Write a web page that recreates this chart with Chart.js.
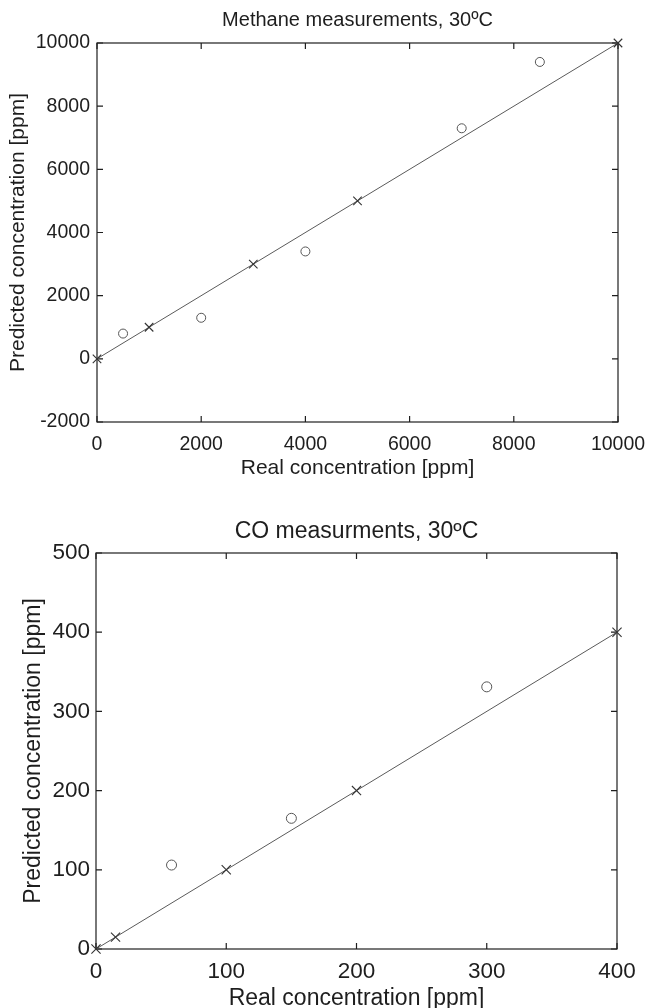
<!DOCTYPE html>
<html><head><meta charset="utf-8">
<script src="https://cdn.jsdelivr.net/npm/chart.js@4/dist/chart.umd.min.js"></script>
<style>
html,body{margin:0;padding:0;background:#fff;}
#wrap{position:relative;width:647px;height:1008px;overflow:hidden;background:#fff;}
.box{position:absolute;left:0;width:647px;}
</style></head><body>
<div id="wrap">
  <div class="box" style="top:0;height:490px"><canvas id="c1"></canvas></div>
  <div class="box" style="top:490px;height:518px"><canvas id="c2"></canvas></div>
</div>
<script>
// ---- data ----
const methaneRealCal = [0, 1000, 3000, 5000, 10000];
const methanePredCal = [0, 1000, 3000, 5000, 10000];
const methaneRealMeas = [500, 2000, 4000, 7000, 8500];
const methanePredMeas = [800, 1300, 3400, 7300, 9400];
const methaneXTicks = [0, 2000, 4000, 6000, 8000, 10000];
const methaneYTicks = [-2000, 0, 2000, 4000, 6000, 8000, 10000];

const coRealCal = [0, 15, 100, 200, 400];
const coPredCal = [0, 15, 100, 200, 400];
const coRealMeas = [58, 150, 300];
const coPredMeas = [106, 165, 331];
const coXTicks = [0, 100, 200, 300, 400];
const coYTicks = [0, 100, 200, 300, 400, 500];

const FONT = '"Liberation Sans", Arial, Helvetica, sans-serif';
const INK = '#1e1e1e';

const frame = {
  id: 'frame',
  beforeDatasetsDraw(chart) {
    const {ctx, chartArea: a, scales: {x, y}} = chart;
    const L = 6;
    ctx.save();
    ctx.strokeStyle = INK; ctx.lineWidth = 1.2;
    ctx.strokeRect(a.left, a.top, a.right - a.left, a.bottom - a.top);
    ctx.beginPath();
    x.ticks.forEach(t => {
      const p = x.getPixelForValue(t.value);
      ctx.moveTo(p, a.bottom); ctx.lineTo(p, a.bottom - L);
      ctx.moveTo(p, a.top); ctx.lineTo(p, a.top + L);
    });
    y.ticks.forEach(t => {
      const p = y.getPixelForValue(t.value);
      ctx.moveTo(a.left, p); ctx.lineTo(a.left + L, p);
      ctx.moveTo(a.right, p); ctx.lineTo(a.right - L, p);
    });
    ctx.stroke();
    ctx.restore();
  }
};

function make(id, o) {
  const pts = (xs, ys) => xs.map((v, i) => ({x: v, y: ys[i]}));
  return new Chart(document.getElementById(id), {
    type: 'scatter',
    data: {
      datasets: [
        {
          data: pts(o.calX, o.calY), showLine: true,
          borderColor: '#5a5a5a', borderWidth: 1,
          pointStyle: 'crossRot', pointRadius: o.crossR,
          pointBorderColor: '#333', pointBorderWidth: 1.1,
          pointBackgroundColor: '#333', clip: false
        },
        {
          data: pts(o.measX, o.measY), showLine: false,
          pointStyle: 'circle', pointRadius: o.circR,
          pointBorderColor: '#555', pointBorderWidth: 1,
          pointBackgroundColor: 'rgba(255,255,255,0)', clip: false
        }
      ]
    },
    options: {
      responsive: true, maintainAspectRatio: false, animation: false,
      devicePixelRatio: 1,
      layout: {padding: {left: 0, right: o.padRight, top: 0, bottom: 0}},
      plugins: {
        legend: {display: false}, tooltip: {enabled: false},
        title: {
          display: true, text: o.title, color: INK, fullSize: false,
          font: {family: FONT, size: o.titleSize, weight: 'normal', lineHeight: 1.2},
          padding: o.titlePad
        }
      },
      scales: {
        x: {
          type: 'linear', min: o.xTicks[0], max: o.xTicks[o.xTicks.length - 1],
          afterBuildTicks: s => { s.ticks = o.xTicks.map(v => ({value: v})); },
          afterFit: s => { s.height = o.xH; s.paddingLeft = 0; s.paddingRight = 0; },
          grid: {display: false, drawTicks: false}, border: {display: false},
          ticks: {color: INK, font: {family: FONT, size: o.tickSize}, padding: o.xTickPad,
                  maxRotation: 0, autoSkip: false, callback: v => String(v)},
          title: {display: true, text: 'Real concentration [ppm]', color: INK,
                  font: {family: FONT, size: o.axSize, lineHeight: o.xTitleLH}, padding: {top: 0, bottom: o.xTitlePadB}}
        },
        y: {
          type: 'linear', min: o.yTicks[0], max: o.yTicks[o.yTicks.length - 1],
          afterBuildTicks: s => { s.ticks = o.yTicks.map(v => ({value: v})); },
          afterFit: s => { s.width = o.yW; s.paddingTop = 0; s.paddingBottom = 0; },
          grid: {display: false, drawTicks: false}, border: {display: false},
          ticks: {color: INK, font: {family: FONT, size: o.tickSize}, padding: o.yTickPad,
                  autoSkip: false, callback: v => String(v)},
          title: {display: true, text: 'Predicted concentration [ppm]', color: INK,
                  font: {family: FONT, size: o.axSize, lineHeight: 1.2}, padding: {top: o.yTitlePadT, bottom: 0}}
        }
      }
    },
    plugins: [frame]
  });
}

make('c1', {
  calX: methaneRealCal, calY: methanePredCal, measX: methaneRealMeas, measY: methanePredMeas,
  xTicks: methaneXTicks, yTicks: methaneYTicks,
  title: 'Methane measurements, 30ºC', titleSize: 20, titlePad: {top: 8, bottom: 11},
  tickSize: 19.5, axSize: 21, padRight: 29, yW: 97, xH: 68,
  xTickPad: 11, yTickPad: 7, xTitleLH: 1.2, xTitlePadB: 9, yTitlePadT: 5.4,
  crossR: 6, circR: 4.5
});

make('c2', {
  calX: coRealCal, calY: coPredCal, measX: coRealMeas, measY: coPredMeas,
  xTicks: coXTicks, yTicks: coYTicks,
  title: 'CO measurments, 30ºC', titleSize: 23, titlePad: {top: 28, bottom: 7.4},
  tickSize: 22.5, axSize: 23, padRight: 30, yW: 96, xH: 59,
  xTickPad: 9, yTickPad: 6, xTitleLH: 0.85, xTitlePadB: 0, yTitlePadT: 20,
  crossR: 6.5, circR: 5
});
</script>
</body></html>
